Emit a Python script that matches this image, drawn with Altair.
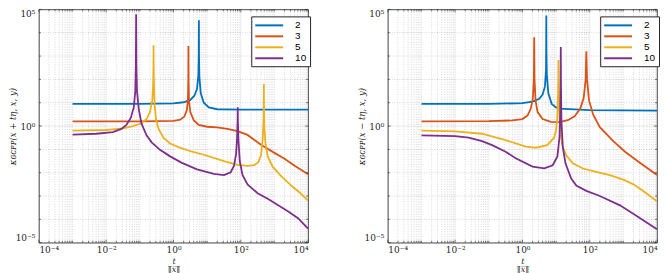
import json
import altair as alt
import pandas as pd

# ---------------- data (log10 x, log10 y) ----------------
series_names = ["2", "3", "5", "10"]
series_colors = ["#0072BD", "#D95319", "#EDB120", "#7E2F8E"]

# left panel: kappa_GCPP(x + t eta, x, y)
left_2 = [(-3, 0.95), (-1, 0.95), (0, 0.97), (0.3, 1.02), (0.5, 1.12), (0.62, 1.3), (0.7, 1.6),
          (0.74, 2.2), (0.751, 3.0), (0.755, 4.53), (0.759, 3.0), (0.77, 2.1), (0.81, 1.4),
          (0.9, 1.0), (1.05, 0.8), (1.3, 0.72), (2, 0.7), (4, 0.7)]
left_3 = [(-3, 0.2), (-1, 0.2), (0, 0.22), (0.2, 0.27), (0.32, 0.4), (0.4, 0.7), (0.43, 1.2),
          (0.44, 2.0), (0.444, 3.43), (0.448, 2.0), (0.46, 1.1), (0.5, 0.6), (0.6, 0.25),
          (0.75, 0.05), (1.0, -0.03), (1.3, -0.06), (1.6, -0.12), (1.9, -0.22), (2.2, -0.38),
          (2.6, -0.8), (3.0, -1.15), (3.3, -1.4), (3.6, -1.7), (4.0, -2.07)]
left_5 = [(-3, -0.2), (-2, -0.17), (-1.5, -0.1), (-1.2, 0.0), (-0.95, 0.12), (-0.8, 0.3),
          (-0.7, 0.6), (-0.63, 1.1), (-0.605, 1.8), (-0.596, 2.6), (-0.593, 3.46), (-0.59, 2.6),
          (-0.58, 1.8), (-0.56, 0.9), (-0.52, 0.3), (-0.45, -0.1), (-0.3, -0.5), (-0.1, -0.75),
          (0.15, -0.9), (0.5, -1.08), (0.9, -1.23), (1.5, -1.5), (1.9, -1.66), (2.2, -1.71),
          (2.4, -1.68), (2.52, -1.55), (2.6, -1.25), (2.65, -0.6), (2.675, 0.2), (2.683, 0.9),
          (2.686, 1.8), (2.69, 0.9), (2.7, 0.0), (2.73, -0.7), (2.8, -1.3), (2.95, -1.75),
          (3.2, -2.15), (3.5, -2.55), (3.75, -2.85), (4.0, -3.2)]
left_10 = [(-3, -0.37), (-2.3, -0.33), (-1.8, -0.26), (-1.55, -0.12), (-1.4, 0.05), (-1.27, 0.35),
           (-1.18, 0.8), (-1.135, 1.5), (-1.118, 2.6), (-1.11, 4.79), (-1.102, 2.6), (-1.085, 1.5),
           (-1.03, 0.7), (-0.95, 0.1), (-0.8, -0.4), (-0.65, -0.7), (-0.4, -1.02), (-0.1, -1.3),
           (0.25, -1.58), (0.7, -1.86), (1.2, -2.05), (1.5, -2.1), (1.7, -1.98), (1.8, -1.7),
           (1.86, -1.2), (1.89, -0.5), (1.905, 0.2), (1.91, 0.81), (1.915, 0.2), (1.93, -0.6),
           (1.97, -1.5), (2.05, -2.1), (2.2, -2.5), (2.5, -2.88), (2.8, -3.12), (3.1, -3.38),
           (3.4, -3.65), (3.7, -3.95), (4.0, -4.4)]

# right panel: kappa_GCPP(x - t eta, x, y)
right_2 = [(-3, 0.95), (-1, 0.95), (0, 0.98), (0.3, 1.05), (0.5, 1.17), (0.6, 1.35), (0.67, 1.7),
           (0.7, 2.4), (0.706, 3.2), (0.71, 4.74), (0.714, 3.2), (0.725, 2.2), (0.77, 1.4),
           (0.87, 0.95), (1.0, 0.8), (1.1, 0.75), (2, 0.68), (4, 0.66)]
right_3 = [(-3, 0.2), (-1, 0.21), (-0.3, 0.24), (0.0, 0.3), (0.15, 0.45), (0.25, 0.75), (0.31, 1.2),
           (0.34, 2.0), (0.35, 3.81), (0.36, 2.0), (0.39, 1.1), (0.45, 0.6), (0.6, 0.3),
           (0.85, 0.18), (1.1, 0.17), (1.35, 0.25), (1.55, 0.42), (1.72, 0.75), (1.82, 1.2),
           (1.88, 2.0), (1.9, 3.2), (1.92, 2.0), (1.98, 1.1), (2.1, 0.5), (2.3, -0.05),
           (2.7, -0.65), (3.05, -1.1), (3.5, -1.58), (4.0, -2.1)]
right_5 = [(-3, -0.2), (-2, -0.23), (-1.2, -0.33), (-0.5, -0.6), (0.1, -0.88), (0.4, -0.93),
           (0.74, -0.82), (0.94, -0.5), (1.0, -0.2), (1.035, 0.3), (1.055, 1.2), (1.065, 2.0),
           (1.07, 2.83), (1.075, 2.0), (1.09, 1.0), (1.12, -0.1), (1.18, -0.8), (1.3, -1.25),
           (1.5, -1.6), (1.8, -1.82), (2.1, -1.93), (2.6, -2.1), (3.0, -2.3), (3.3, -2.5),
           (3.65, -2.85), (4.0, -3.22)]
right_10 = [(-3, -0.4), (-2, -0.43), (-1.6, -0.5), (-1.2, -0.65), (-0.9, -0.82), (-0.5, -1.1),
            (-0.2, -1.38), (0.3, -1.74), (0.65, -1.81), (0.9, -1.68), (1.04, -1.3), (1.1, -0.5),
            (1.125, 0.6), (1.135, 1.8), (1.14, 3.39), (1.145, 1.8), (1.16, 0.2), (1.2, -0.9),
            (1.28, -1.6), (1.45, -2.25), (1.6, -2.55), (1.9, -2.78), (2.3, -3.0), (2.9, -3.4),
            (3.5, -3.95), (4.0, -4.42)]

# axes
x_tick_exps = [-4, -2, 0, 2, 4]
x_tick_labels = ["10⁻⁴", "10⁻²", "10⁰", "10²", "10⁴"]
y_tick_exps = [-5, 0, 5]
y_tick_labels = ["10⁻⁵", "10⁰", "10⁵"]
x_title = ["t", "‖̅x̅‖̅"]
left_ytitle = "κɢᴄᴘᴘ(x + tη, x, y)"
right_ytitle = "κɢᴄᴘᴘ(x − tη, x, y)"

# ---------------- derived structures ----------------
W, H = 270, 234
x_major = [10.0 ** e for e in x_tick_exps]
y_major = [10.0 ** e for e in y_tick_exps]
x_minor = [m * 10.0 ** k for k in range(-4, 4) for m in range(1, 10)
           if not (m == 1 and k in x_tick_exps)]
y_minor = [10.0 ** k for k in range(-4, 5) if k not in y_tick_exps]

xs = alt.Scale(type="log", domain=[1e-4, 1e4], nice=False)
ys = alt.Scale(type="log", domain=[1e-5, 1e5], nice=False)
cs = alt.Scale(domain=series_names, range=series_colors)

x_expr = (f"{json.dumps(x_tick_labels, ensure_ascii=False)}"
          f"[indexof({json.dumps(x_tick_exps)}, round(log(datum.value)/LN10))]")
y_expr = (f"{json.dumps(y_tick_labels, ensure_ascii=False)}"
          f"[indexof({json.dumps(y_tick_exps)}, round(log(datum.value)/LN10))]")

INK = "#262626"


def make_axes(ytitle):
    xa = alt.Axis(values=x_major, labelExpr=x_expr, title=x_title, grid=False, ticks=False,
                  domain=False, labelFont="DejaVu Serif", labelFontSize=9, labelColor=INK,
                  labelPadding=3, titleFont="DejaVu Serif", titleFontStyle="italic",
                  titleFontWeight="normal", titleFontSize=8, titleLineHeight=8,
                  titlePadding=3, titleColor=INK)
    ya = alt.Axis(values=y_major, labelExpr=y_expr, title=ytitle, grid=False, ticks=False,
                  domain=False, labelFont="DejaVu Serif", labelFontSize=9, labelColor=INK,
                  labelPadding=4, labelFlush=True, titleFont="DejaVu Serif",
                  titleFontStyle="italic", titleFontWeight="normal", titleFontSize=8.5,
                  titleColor=INK, titleX=-21)
    return xa, ya


def panel(curves, ytitle):
    xa, ya = make_axes(ytitle)
    rows = []
    for name, pts in zip(series_names, curves):
        for i, (lx, ly) in enumerate(pts):
            rows.append({"series": name, "i": i, "x": 10.0 ** lx, "y": 10.0 ** ly})
    df = pd.DataFrame(rows)

    gx_minor = alt.Chart(pd.DataFrame({"x": x_minor})).mark_rule(
        color=INK, opacity=0.3, strokeWidth=0.6, strokeDash=[1, 1.5]
    ).encode(x=alt.X("x:Q", scale=xs, axis=xa))
    gy_minor = alt.Chart(pd.DataFrame({"y": y_minor})).mark_rule(
        color=INK, opacity=0.3, strokeWidth=0.6, strokeDash=[1, 1.5]
    ).encode(y=alt.Y("y:Q", scale=ys, axis=ya))
    gx_major = alt.Chart(pd.DataFrame({"x": x_major})).mark_rule(
        color=INK, opacity=0.13, strokeWidth=0.8
    ).encode(x=alt.X("x:Q", scale=xs, axis=xa))
    gy_major = alt.Chart(pd.DataFrame({"y": y_major})).mark_rule(
        color=INK, opacity=0.13, strokeWidth=0.8
    ).encode(y=alt.Y("y:Q", scale=ys, axis=ya))

    lines = alt.Chart(df).mark_line(strokeWidth=1.8, clip=True).encode(
        x=alt.X("x:Q", scale=xs, axis=xa),
        y=alt.Y("y:Q", scale=ys, axis=ya),
        color=alt.Color("series:N", scale=cs, sort=series_names, legend=alt.Legend(
            title=None, orient="none", legendX=213, legendY=7, fillColor="white",
            strokeColor=INK, padding=3, symbolType="M-2.8,0H2.8", symbolSize=100,
            symbolOffset=9, symbolStrokeWidth=2, labelFont="Liberation Sans",
            labelFontSize=10, labelColor="black", rowPadding=0, labelOffset=20,
            labelLimit=14)),
        order="i:Q",
    )

    tick_len = {"major": 3, "minor": 2}
    xt = []
    yt = []
    for kind, vals in (("major", x_major), ("minor", x_minor)):
        L = tick_len[kind]
        d = pd.DataFrame({"x": vals})
        xt.append(alt.Chart(d).mark_rule(color=INK, strokeWidth=0.6).encode(
            x=alt.X("x:Q", scale=xs, axis=xa), y=alt.value(H), y2=alt.value(H - L)))
        xt.append(alt.Chart(d).mark_rule(color=INK, strokeWidth=0.6).encode(
            x=alt.X("x:Q", scale=xs, axis=xa), y=alt.value(0), y2=alt.value(L)))
    for kind, vals in (("major", y_major), ("minor", y_minor)):
        L = tick_len[kind]
        d = pd.DataFrame({"y": vals})
        yt.append(alt.Chart(d).mark_rule(color=INK, strokeWidth=0.6).encode(
            y=alt.Y("y:Q", scale=ys, axis=ya), x=alt.value(0), x2=alt.value(L)))
        yt.append(alt.Chart(d).mark_rule(color=INK, strokeWidth=0.6).encode(
            y=alt.Y("y:Q", scale=ys, axis=ya), x=alt.value(W), x2=alt.value(W - L)))

    return alt.layer(gx_minor, gy_minor, gx_major, gy_major, lines, *xt, *yt).properties(
        width=W, height=H)


left = panel([left_2, left_3, left_5, left_10], left_ytitle)
right = panel([right_2, right_3, right_5, right_10], right_ytitle)

chart = alt.hconcat(left, right, spacing=46).resolve_scale(
    color="independent").resolve_legend(color="independent").properties(
    padding=0).configure_view(stroke=INK, strokeWidth=0.8)

chart.save("out.html", embed_options={"renderer": "svg", "actions": False})
